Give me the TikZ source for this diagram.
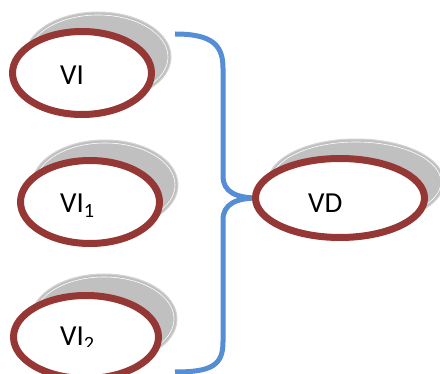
\documentclass[tikz,border=0pt]{standalone}
\usepackage{fontspec}
\setmainfont{Carlito}
\usetikzlibrary{shapes.geometric}
\definecolor{ringred}{HTML}{953735}
\definecolor{shadowgray}{HTML}{C0C0C0}
\definecolor{bordergray}{HTML}{D4D4D4}
\definecolor{bracketblue}{HTML}{558ED5}
\tikzset{
  shadowell/.style={ellipse, inner sep=0pt, minimum width=146pt, minimum height=90pt,
    fill=shadowgray, draw=bordergray, line width=1pt},
  shadowline/.style={ellipse, inner sep=0pt, minimum width=140pt, minimum height=84pt,
    draw=white, line width=0.6pt},
  ringell/.style={ellipse, inner sep=0pt, minimum width=139pt, minimum height=83pt,
    fill=white, draw=ringred, line width=7pt},
  bracket/.style={draw=bracketblue, line width=5pt},
  lbl/.style={inner sep=0pt, font=\fontsize{29}{33}\selectfont, text=black}
}
\begin{document}
\begin{tikzpicture}[x=1pt, y=-1pt]
\clip (0,0) rectangle (440,374);
% shadows
\node[shadowell] (vis) at (98,57) {};
\node[shadowline] (visl) at (98,57) {};
\node[shadowell] (vi1s) at (105,185) {};
\node[shadowline] (vi1sl) at (105,185) {};
\node[shadowell] (vi2s) at (104,319) {};
\node[shadowline] (vi2sl) at (104,319) {};
\node[shadowell, minimum width=176pt, minimum height=86pt] (vds) at (356,182) {};
\node[shadowline, minimum width=170pt, minimum height=80pt] (vdsl) at (356,182) {};
% bracket
\coordinate (ta) at (175,34);
\coordinate (tb) at (175,372);
\coordinate (vdw) at (258,198);
\draw[bracket] (ta) .. controls (212,34) and (223,45) .. (223,68) -- (223,176)
  .. controls (223,192) and (236,198) .. (vdw);
\draw[bracket] (vdw) .. controls (236,198) and (223,204) .. (223,220) -- (223,342)
  .. controls (223,365) and (212,372) .. (tb);
% rings
\node[ringell] (vi) at (82,73) {};
\node[ringell] (vi1) at (90,202) {};
\node[ringell, minimum width=145pt] (vi2) at (86,337) {};
\node[ringell, minimum width=169pt, minimum height=79pt] (vd) at (340,198) {};
% labels
\node[lbl, anchor=base west] (vit) at (60,85) {VI};
\node[lbl, anchor=base west] (vi1t) at (60,213) {VI\textsubscript{1}};
\node[lbl, anchor=base west] (vdt) at (308,213) {VD};
\begin{scope}
\clip (0,0) rectangle (440,347);
\node[lbl, anchor=base west] (vi2t) at (60,346) {VI\textsubscript{2}};
\end{scope}
\end{tikzpicture}
\end{document}
